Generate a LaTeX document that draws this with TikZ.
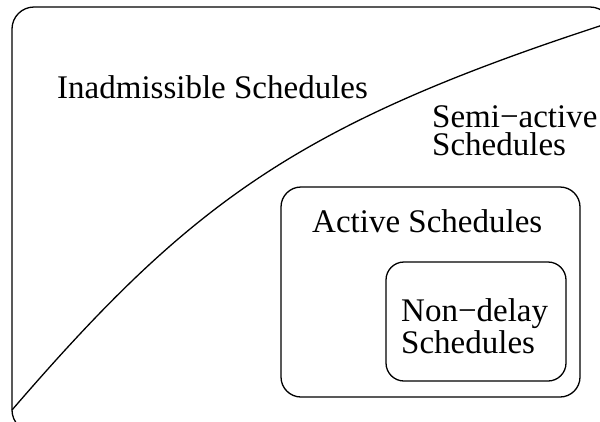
\documentclass[tikz,border=0pt]{standalone}
\usepackage{fontspec}
\setmainfont{Liberation Serif}
\tikzset{
	setbox/.style={line width=1.3pt, rounded corners=#1},
	setlabel/.style={inner sep=0pt, anchor=base west, align=left, font=\fontsize{33}{28}\selectfont},
}
\begin{document}
\begin{tikzpicture}[x=1pt, y=-1pt]
	\useasboundingbox (0,0) rectangle (600,421);
	\clip (0,0) rectangle (600,421);
	% outer set and the dividing curve
	\draw[setbox=22pt] (12,7) rectangle (612,432);
	\coordinate (curvestart) at (12,410);
	\coordinate (curveend) at (612,22);
	\draw[line width=1.3pt] (curvestart) .. controls (193,200) and (300,123) .. (curveend);
	% inner sets
	\draw[setbox=20pt] (281,187) rectangle (580,397);
	\draw[setbox=18pt] (386,262) rectangle (566,381);
	\node[setlabel] (inadmissible) at (57,98) {Inadmissible Schedules};
	\node[setlabel] (semiactive) at (432,155) {Semi−active\\Schedules};
	\node[setlabel] (active) at (312,232) {Active Schedules};
	\node[setlabel] (nondelay) at (401,353) {Non−delay\\Schedules};
\end{tikzpicture}
\end{document}
